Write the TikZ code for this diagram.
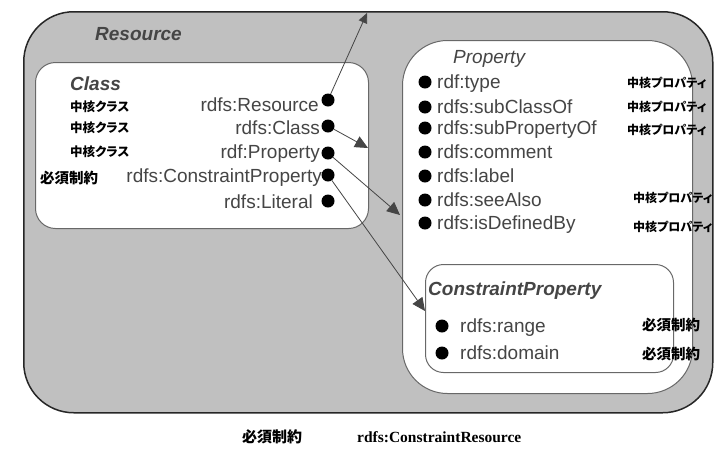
\documentclass[tikz,border=0pt]{standalone}
\usepackage{fontspec}
\setmainfont{Liberation Sans}
\newfontfamily\jp[RawFeature=+palt]{Noto Sans CJK JP}
\newfontfamily\serifb{Liberation Serif}
\usetikzlibrary{arrows.meta}
\definecolor{panel}{HTML}{C0C0C0}
\definecolor{ink}{HTML}{454545}
\definecolor{edge}{HTML}{686868}

\begin{document}
\begin{tikzpicture}[x=1pt,y=-1pt,
  box/.style={draw=edge, fill=white, line width=1pt, anchor=north west, inner sep=0pt},
  title/.style={font=\fontsize{19}{19}\selectfont\bfseries\itshape, text=ink, anchor=base west, inner sep=0pt},
  term/.style={font=\fontsize{19}{19}\selectfont, text=ink, inner sep=0pt},
  dot/.style={circle, fill=black, minimum size=13pt, inner sep=0pt},
  core/.style={font=\jp\bfseries\fontsize{12.5}{12.5}\selectfont, anchor=west, inner sep=0pt},
  coreprop/.style={font=\jp\bfseries\fontsize{12}{12}\selectfont, anchor=west, inner sep=0pt},
  must/.style={font=\jp\bfseries\fontsize{14.5}{14.5}\selectfont, anchor=west, inner sep=0pt},
  link/.style={draw=ink, line width=0.8pt, -{Triangle[length=13pt,width=12pt]}}
]
\useasboundingbox (0,0) rectangle (715,448);

% grey Resource panel and the three inner boxes
\node[draw=black!85, fill=panel, line width=1.5pt, rounded corners=50pt,
      minimum width=689pt, minimum height=401pt, anchor=north west, inner sep=0pt]
      (resource) at (23,11) {};
\node[box, rounded corners=20pt, minimum width=333pt, minimum height=166pt] (classbox) at (35,62) {};
\node[box, rounded corners=45pt, minimum width=290pt, minimum height=353pt] (propbox) at (402,40) {};
\node[box, rounded corners=18pt, minimum width=248pt, minimum height=108pt] (cpbox) at (425,264) {};

% titles
\node[title] (tres) at (95,40) {Resource};
\node[title] (tclass) at (70,90) {Class};
\node[title, font=\fontsize{19}{19}\selectfont\itshape] (tprop) at (453,63) {Property};
\node[title] (tcp) at (428,295) {ConstraintProperty};

% classes
\node[dot] (dRes) at (328,100) {};
\node[dot] (dClass) at (328,126) {};
\node[dot] (dProp) at (328,153) {};
\node[dot] (dCP) at (328,175) {};
\node[dot] (dLit) at (328,201) {};
\node[term, anchor=base east] (lRes) at (319,111) {rdfs:Resource};
\node[term, anchor=base east] (lClass) at (320,134) {rdfs:Class};
\node[term, anchor=base east] (lProp) at (320,158) {rdf:Property};
\node[term, anchor=base east] (lCP) at (322,182) {rdfs:ConstraintProperty};
\node[term, anchor=base east] (lLit) at (313,208) {rdfs:Literal};
\node[core] (kRes) at (70,107) {中核クラス};
\node[core] (kClass) at (70,128) {中核クラス};
\node[core] (kProp) at (70,152) {中核クラス};
\node[must] (kCP) at (40,178) {必須制約};

% properties
\foreach \name/\txt/\y in {pType/rdf:type/82, pSubC/rdfs:subClassOf/107,
    pSubP/rdfs:subPropertyOf/128, pCom/rdfs:comment/152, pLab/rdfs:label/176,
    pSee/rdfs:seeAlso/200, pDef/rdfs:isDefinedBy/223}{
  \node[dot] (d\name) at (425,\y) {};
  \node[term, anchor=base west] (l\name) at (437,\y+6.5) {\txt};
}
\node[coreprop] (kType) at (627,83) {中核プロパティ};
\node[coreprop] (kSubC) at (627,107) {中核プロパティ};
\node[coreprop] (kSubP) at (627,130) {中核プロパティ};
\node[coreprop] (kSee) at (633,198) {中核プロパティ};
\node[coreprop] (kDef) at (633,227) {中核プロパティ};

% constraint properties
\node[dot] (dRange) at (442,326) {};
\node[dot] (dDomain) at (442,353) {};
\node[term, anchor=base west] (lRange) at (460,332) {rdfs:range};
\node[term, anchor=base west] (lDomain) at (460,359) {rdfs:domain};
\node[must] (kRange) at (642,325) {必須制約};
\node[must] (kDomain) at (642,354) {必須制約};

% caption
\node[must, font=\jp\bfseries\fontsize{15}{15}\selectfont] (kCaption) at (242,437) {必須制約};
\node[font=\serifb\bfseries\fontsize{15.5}{15.5}\selectfont, anchor=base west, inner sep=0pt]
      (lCaption) at (357,442) {rdfs:ConstraintResource};

% instance-of links
\coordinate (resTip) at (367,13);
\coordinate (classTip) at (368,148);
\coordinate (propTip) at (400,215);
\coordinate (cpTip) at (425,311);
\draw[link, -{Triangle[length=10pt,width=9pt]}] (dRes) -- (resTip);
\draw[link] (dClass) -- (classTip);
\draw[link] (dProp) -- (propTip);
\draw[link] (dCP) -- (cpTip);
\end{tikzpicture}
\end{document}
